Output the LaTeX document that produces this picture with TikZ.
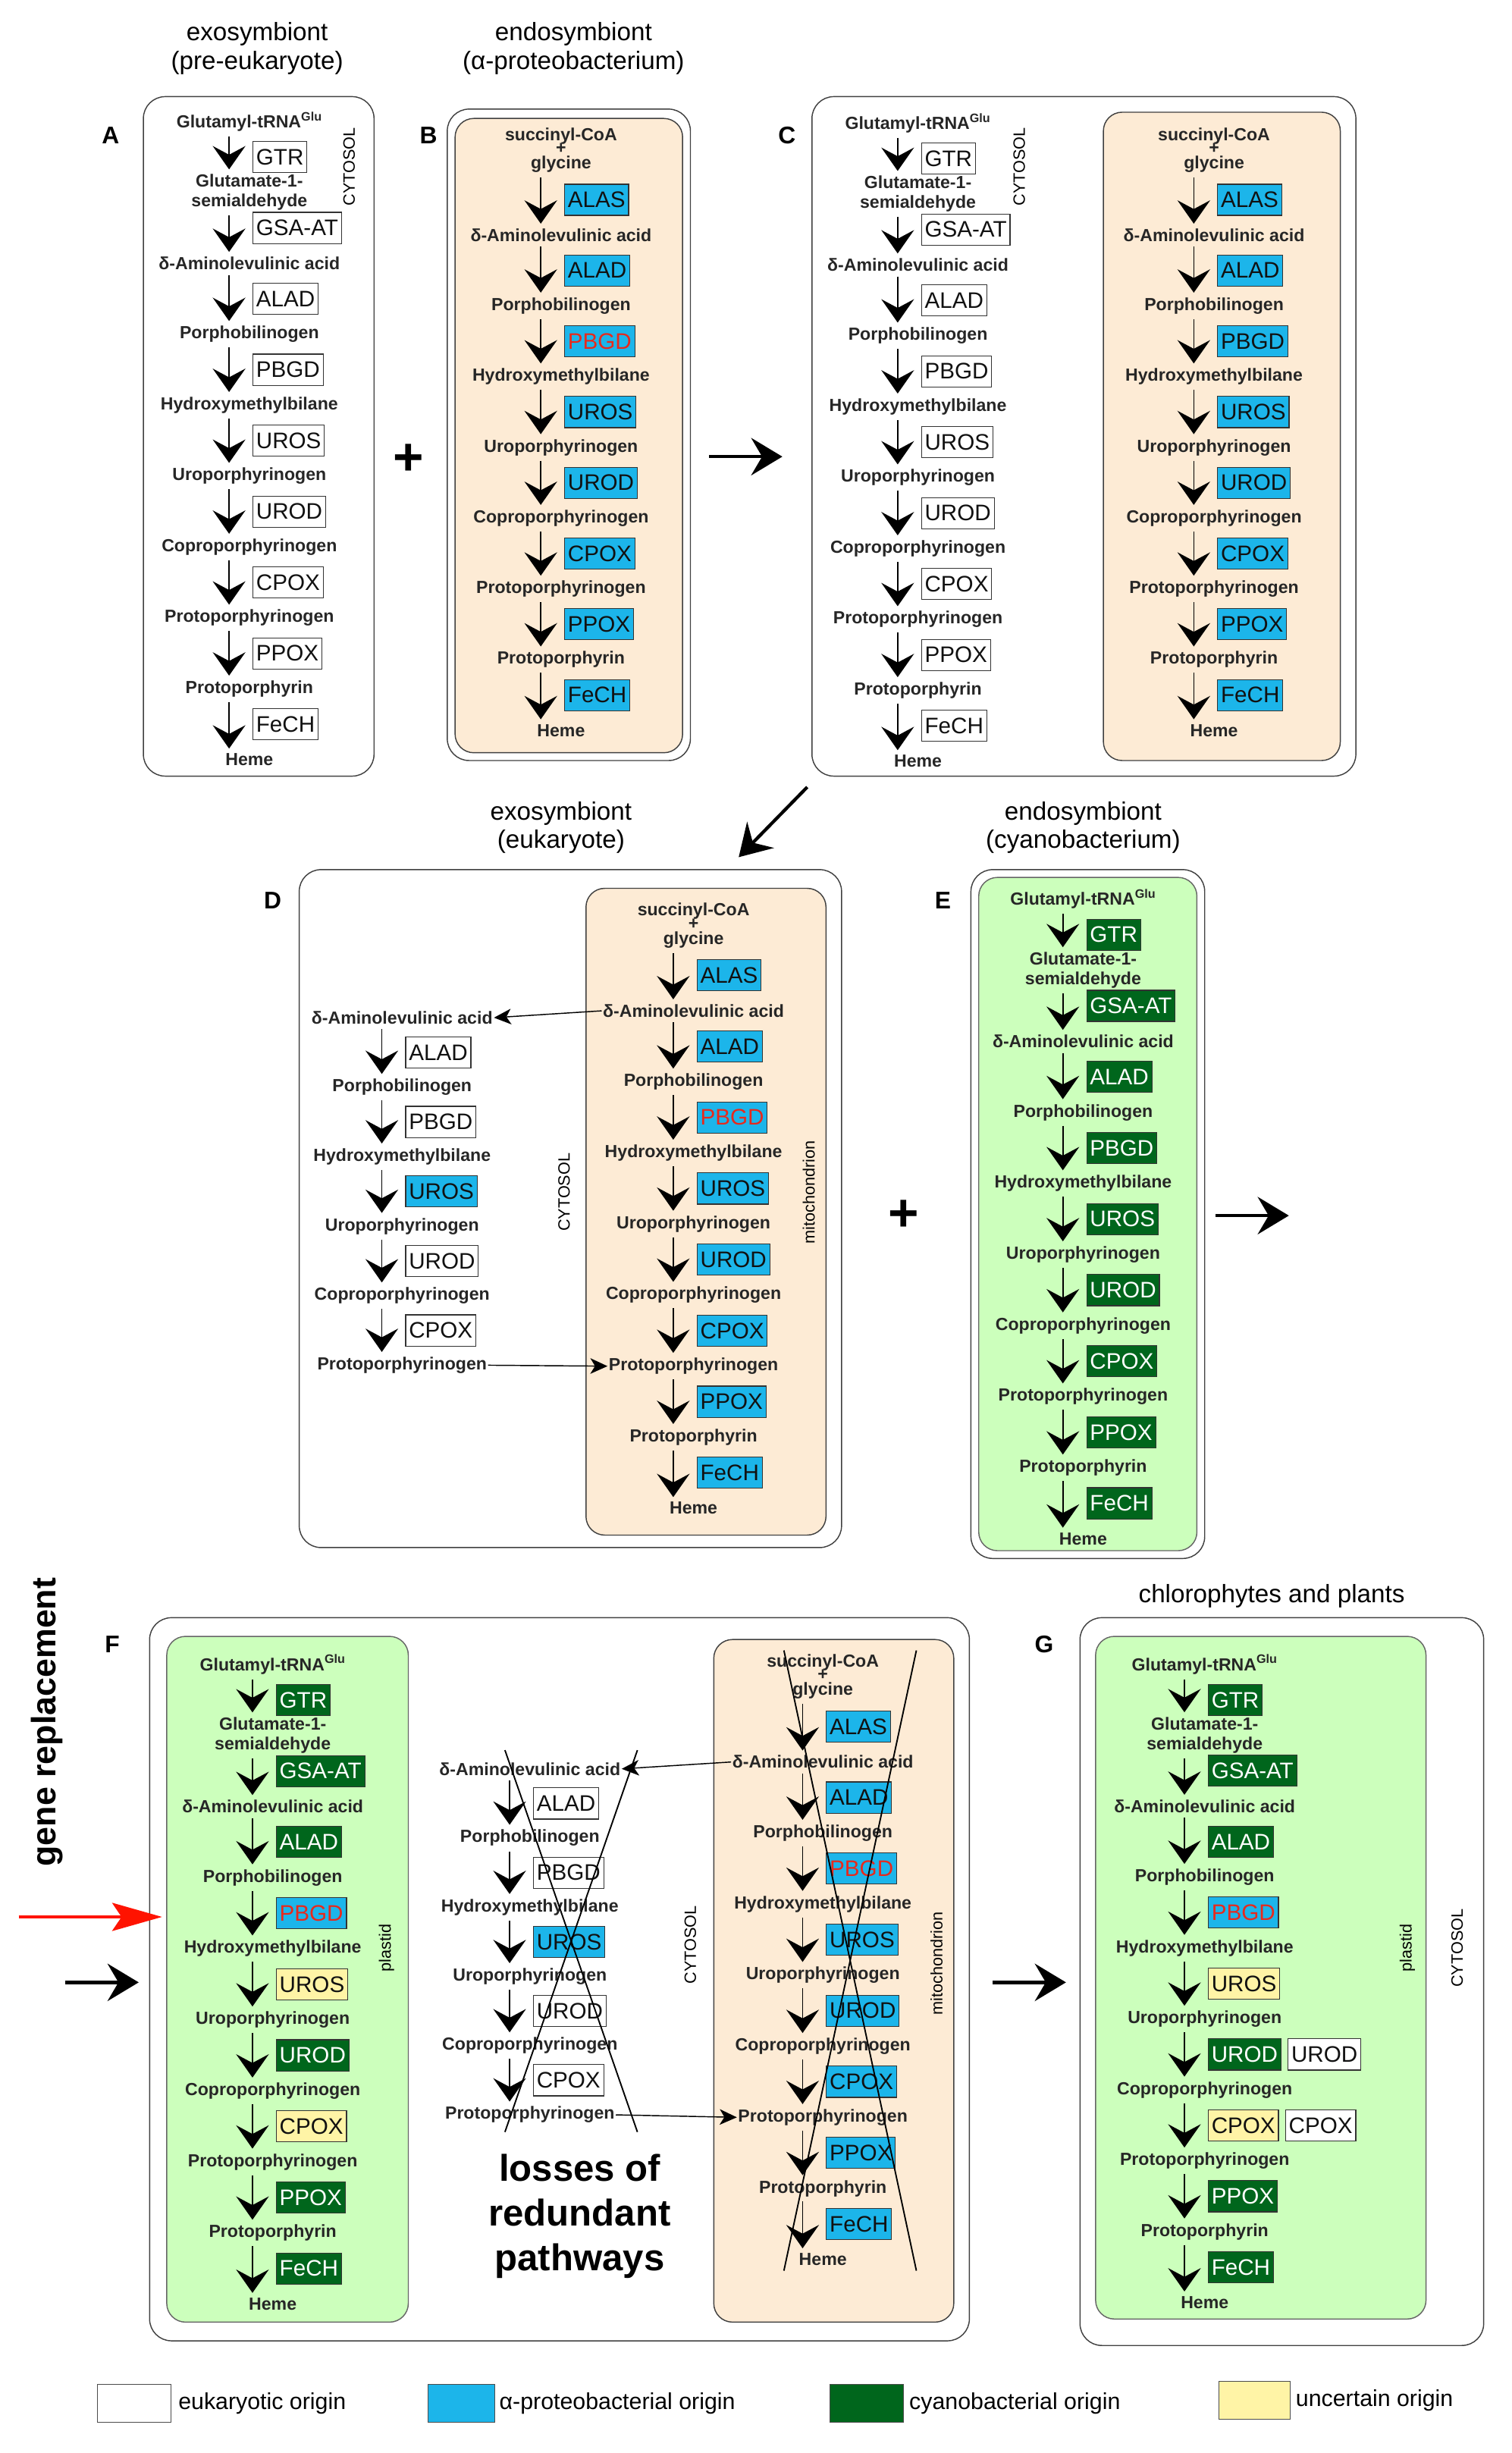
\documentclass[tikz,border=0pt]{standalone}
\usepackage{fontspec}
\setmainfont{Liberation Sans}
\usetikzlibrary{arrows.meta}
\definecolor{wF}{HTML}{FFFFFF}\definecolor{wT}{HTML}{111111}
\definecolor{bF}{HTML}{1CB5EA}\definecolor{bT}{HTML}{111111}
\definecolor{rF}{HTML}{1CB5EA}\definecolor{rT}{HTML}{E8291C}
\definecolor{gF}{HTML}{00661C}\definecolor{gT}{HTML}{FFFFFF}
\definecolor{yF}{HTML}{FFF4A6}\definecolor{yT}{HTML}{111111}
\definecolor{beigeC}{HTML}{FDEBD5}
\definecolor{leafC}{HTML}{CCFFBC}
\tikzset{
  met/.style={font=\fontsize{16}{18}\selectfont\bfseries, align=center, inner sep=1pt, text=black!85},
  enz/.style={draw=black!80, line width=0.8pt, anchor=west, font=\fontsize{20.5}{22}\selectfont,
              inner xsep=3pt, inner ysep=0pt, minimum height=1cm},
  pstep/.style={line width=1.1pt, -{Stealth[length=0.75cm,width=1.05cm,inset=0.28cm]}},
  link/.style={line width=1pt, -{Stealth[length=0.55cm,width=0.5cm,inset=0.15cm]}},
  big/.style={line width=3pt, -{Stealth[length=1cm,width=1.2cm,inset=0.35cm]}},
  panel/.style={draw=black!75, line width=1pt, rounded corners=0.7cm},
  mito/.style={draw=black!75, line width=1pt, fill=beigeC, rounded corners=0.6cm},
  leaf/.style={draw=black!60, line width=1pt, fill=leafC, rounded corners=0.6cm},
  lbl/.style={font=\fontsize{22}{24}\selectfont\bfseries},
  head/.style={font=\fontsize{23}{26}\selectfont, align=center},
  side/.style={font=\fontsize{15}{16}\selectfont, rotate=90},
  cross/.style={line width=1.3pt},
  leg/.style={font=\fontsize{21}{22}\selectfont, anchor=west},
}
% #1 id, #2 arrow x, #3 first metabolite y, #4 step, #5 metabolites, #6 enzyme/colour
\newcommand\pw[6]{%
  \coordinate (#1x) at (#2,0);
  \foreach \m [count=\i from 0] in {#5} {
    \node[met] (#1m\i) at (#2+13, #3+\i*#4) {\m};
  }
  \foreach \e/\s [count=\i from 0] in {#6} {
    \pgfmathtruncatemacro\j{\i+1}
    \coordinate (#1a\i) at ([yshift=-0.12cm]#1m\i.south -| #1x);
    \coordinate (#1b\i) at ([yshift=0.12cm]#1m\j.north -| #1x);
    \draw[pstep] (#1a\i) -- (#1b\i);
    \node[enz, fill=\s F, text=\s T] (#1e\i) at (#2+15, #3+\i*#4+#4/2) {\e};
  }
}
\newcommand\glu{Glutamyl-tRNA\textsuperscript{Glu}}
\newcommand\gsa{Glutamate-1-\\semialdehyde}
\newcommand\ala{δ-Aminolevulinic acid}
\begin{document}
\begin{tikzpicture}[x=0.05cm, y=-0.05cm]
\useasboundingbox (0,0) rectangle (970,1574);

% ---------- A ----------
\node[head] (hA) at (165,31) {exosymbiont\\(pre-eukaryote)};
\node[lbl] (lA) at (71,87) {A};
\draw[panel] (92,62) rectangle (240,498);
\node[side] (cA) at (224,107) {CYTOSOL};
\pw{A}{147}{78}{45.5}{\glu,{\gsa},\ala,Porphobilinogen,Hydroxymethylbilane,Uroporphyrinogen,Coproporphyrinogen,Protoporphyrinogen,Protoporphyrin,Heme}
  {GTR/w,GSA-AT/w,ALAD/w,PBGD/w,UROS/w,UROD/w,CPOX/w,PPOX/w,FeCH/w}

% ---------- B ----------
\node[head] (hB) at (368,31) {endosymbiont\\(α-proteobacterium)};
\node[lbl] (lB) at (275,87) {B};
\draw[panel] (287,70) rectangle (443,488);
\draw[mito] (292,76) rectangle (438,483);
\pw{B}{347}{105.5}{45.4}{glycine,\ala,Porphobilinogen,Hydroxymethylbilane,Uroporphyrinogen,Coproporphyrinogen,Protoporphyrinogen,Protoporphyrin,Heme}
  {ALAS/b,ALAD/b,PBGD/r,UROS/b,UROD/b,CPOX/b,PPOX/b,FeCH/b}
\node[met, anchor=south] (Bs) at (Bm0.north) {succinyl-CoA\\[-6pt]+};

\node[font=\fontsize{48}{48}\selectfont\bfseries] (p1) at (262,295) {+};
\coordinate (r1a) at (455,293); \coordinate (r1b) at (502,293);
\draw[big] (r1a) -- (r1b);

% ---------- C ----------
\node[lbl] (lC) at (505,87) {C};
\draw[panel] (521,62) rectangle (870,498);
\node[side] (cC) at (654,107) {CYTOSOL};
\pw{C}{576}{79}{45.5}{\glu,{\gsa},\ala,Porphobilinogen,Hydroxymethylbilane,Uroporphyrinogen,Coproporphyrinogen,Protoporphyrinogen,Protoporphyrin,Heme}
  {GTR/w,GSA-AT/w,ALAD/w,PBGD/w,UROS/w,UROD/w,CPOX/w,PPOX/w,FeCH/w}
\draw[mito] (708,72) rectangle (860,488);
\pw{Cr}{766}{105.5}{45.4}{glycine,\ala,Porphobilinogen,Hydroxymethylbilane,Uroporphyrinogen,Coproporphyrinogen,Protoporphyrinogen,Protoporphyrin,Heme}
  {ALAS/b,ALAD/b,PBGD/b,UROS/b,UROD/b,CPOX/b,PPOX/b,FeCH/b}
\node[met, anchor=south] (Crs) at (Crm0.north) {succinyl-CoA\\[-6pt]+};

\coordinate (r2a) at (518,505); \coordinate (r2b) at (474,550);
\draw[big] (r2a) -- (r2b);

% ---------- D ----------
\node[head] (hD) at (360,531) {exosymbiont\\(eukaryote)};
\node[lbl] (lD) at (175,578) {D};
\draw[panel] (192,558) rectangle (540,993);
\draw[mito] (376,570) rectangle (530,985);
\pw{D}{432}{603}{45.6}{glycine,\ala,Porphobilinogen,Hydroxymethylbilane,Uroporphyrinogen,Coproporphyrinogen,Protoporphyrinogen,Protoporphyrin,Heme}
  {ALAS/b,ALAD/b,PBGD/r,UROS/b,UROD/b,CPOX/b,PPOX/b,FeCH/b}
\node[met, anchor=south] (Ds) at (Dm0.north) {succinyl-CoA\\[-6pt]+};
\pw{Dl}{245}{653}{44.6}{\ala,Porphobilinogen,Hydroxymethylbilane,Uroporphyrinogen,Coproporphyrinogen,Protoporphyrinogen}
  {ALAD/w,PBGD/w,UROS/b,UROD/w,CPOX/w}
\draw[link] (Dm1.west) -- (Dlm0.east);
\draw[link] (Dlm5.east) -- (Dm6.west);
\node[side] (cD) at (362,765) {CYTOSOL};
\node[side] (mD) at (519,765) {mitochondrion};

\node[font=\fontsize{48}{48}\selectfont\bfseries] (p2) at (580,780) {+};

% ---------- E ----------
\node[head] (hE) at (695,531) {endosymbiont\\(cyanobacterium)};
\node[lbl] (lE) at (605,578) {E};
\draw[panel] (623,558) rectangle (773,1000);
\draw[leaf] (628,563) rectangle (768,995);
\pw{E}{682}{577}{45.6}{\glu,{\gsa},\ala,Porphobilinogen,Hydroxymethylbilane,Uroporphyrinogen,Coproporphyrinogen,Protoporphyrinogen,Protoporphyrin,Heme}
  {GTR/g,GSA-AT/g,ALAD/g,PBGD/g,UROS/g,UROD/g,CPOX/g,PPOX/g,FeCH/g}

\coordinate (r3a) at (780,780); \coordinate (r3b) at (827,780);
\draw[big] (r3a) -- (r3b);

% ---------- F ----------
\node[font=\fontsize{31}{32}\selectfont\bfseries, rotate=90] (gr) at (30,1105) {gene replacement};
\node[lbl] (lF) at (72,1055) {F};
\draw[panel] (96,1038) rectangle (622,1502);
\draw[leaf] (107,1050) rectangle (262,1490);
\pw{F}{162}{1068}{45.6}{\glu,{\gsa},\ala,Porphobilinogen,Hydroxymethylbilane,Uroporphyrinogen,Coproporphyrinogen,Protoporphyrinogen,Protoporphyrin,Heme}
  {GTR/g,GSA-AT/g,ALAD/g,PBGD/r,UROS/y,UROD/g,CPOX/y,PPOX/g,FeCH/g}
\node[side] (pF) at (248,1250) {plastid};
\coordinate (redA) at (12,1230); \coordinate (redB) at (104,1230);
\draw[line width=3pt, red!85!orange, -{Stealth[length=1.6cm,width=0.9cm,inset=0.3cm]}] (redA) -- (redB);
\coordinate (r4a) at (42,1272); \coordinate (r4b) at (89,1272);
\draw[big] (r4a) -- (r4b);

\pw{Fl}{327}{1135}{44.4}{\ala,Porphobilinogen,Hydroxymethylbilane,Uroporphyrinogen,Coproporphyrinogen,Protoporphyrinogen}
  {ALAD/w,PBGD/w,UROS/b,UROD/w,CPOX/w}
\coordinate (x1) at (324,1123); \coordinate (x2) at (409,1123);
\coordinate (x3) at (324,1368); \coordinate (x4) at (409,1368);
\draw[cross] (x1) -- (x4); \draw[cross] (x2) -- (x3);
\node[side] (cF) at (443,1248) {CYTOSOL};

\draw[mito] (458,1052) rectangle (612,1490);
\pw{Fr}{515}{1085}{45.6}{glycine,\ala,Porphobilinogen,Hydroxymethylbilane,Uroporphyrinogen,Coproporphyrinogen,Protoporphyrinogen,Protoporphyrin,Heme}
  {ALAS/b,ALAD/b,PBGD/r,UROS/b,UROD/b,CPOX/b,PPOX/b,FeCH/b}
\node[met, anchor=south] (Frs) at (Frm0.north) {succinyl-CoA\\[-6pt]+};
\coordinate (y1) at (503,1059); \coordinate (y2) at (588,1059);
\coordinate (y3) at (503,1457); \coordinate (y4) at (588,1457);
\draw[cross] (y1) -- (y4); \draw[cross] (y2) -- (y3);
\node[side] (mF) at (601,1260) {mitochondrion};
\draw[link] (Frm1.west) -- (Flm0.east);
\draw[link] (Flm5.east) -- (Frm6.west);
\node[font=\fontsize{34}{41}\selectfont\bfseries, align=center] (loss) at (372,1422) {losses of\\redundant\\pathways};

\coordinate (r5a) at (637,1272); \coordinate (r5b) at (684,1272);
\draw[big] (r5a) -- (r5b);

% ---------- G ----------
\node[head] (hG) at (816,1024) {chlorophytes and plants};
\node[lbl] (lG) at (670,1055) {G};
\draw[panel] (693,1038) rectangle (952,1505);
\draw[leaf] (703,1050) rectangle (915,1488);
\pw{G}{760}{1068}{45.5}{\glu,{\gsa},\ala,Porphobilinogen,Hydroxymethylbilane,Uroporphyrinogen,Coproporphyrinogen,Protoporphyrinogen,Protoporphyrin,Heme}
  {GTR/g,GSA-AT/g,ALAD/g,PBGD/r,UROS/y,UROD/g,CPOX/y,PPOX/g,FeCH/g}
\node[enz, fill=wF, text=wT] (GU) at ([xshift=0.2cm]Ge5.east) {UROD};
\node[enz, fill=wF, text=wT] (GC) at ([xshift=0.2cm]Ge6.east) {CPOX};
\node[side] (pG) at (903,1250) {plastid};
\node[side] (cG) at (935,1250) {CYTOSOL};

% ---------- legend ----------
\node[draw=black!70, fill=wF, minimum width=2.35cm, minimum height=1.2cm] (k1) at (86,1542) {};
\node[leg] (t1) at (112,1542) {eukaryotic origin};
\node[draw=black!70, fill=bF, minimum width=2.15cm, minimum height=1.2cm] (k2) at (296,1542) {};
\node[leg] (t2) at (318,1542) {α-proteobacterial origin};
\node[draw=black!70, fill=gF, minimum width=2.35cm, minimum height=1.2cm] (k3) at (556,1542) {};
\node[leg] (t3) at (581,1542) {cyanobacterial origin};
\node[draw=black!70, fill=yF, minimum width=2.3cm, minimum height=1.2cm] (k4) at (805,1540) {};
\node[leg] (t4) at (829,1540) {uncertain origin};
\end{tikzpicture}
\end{document}
